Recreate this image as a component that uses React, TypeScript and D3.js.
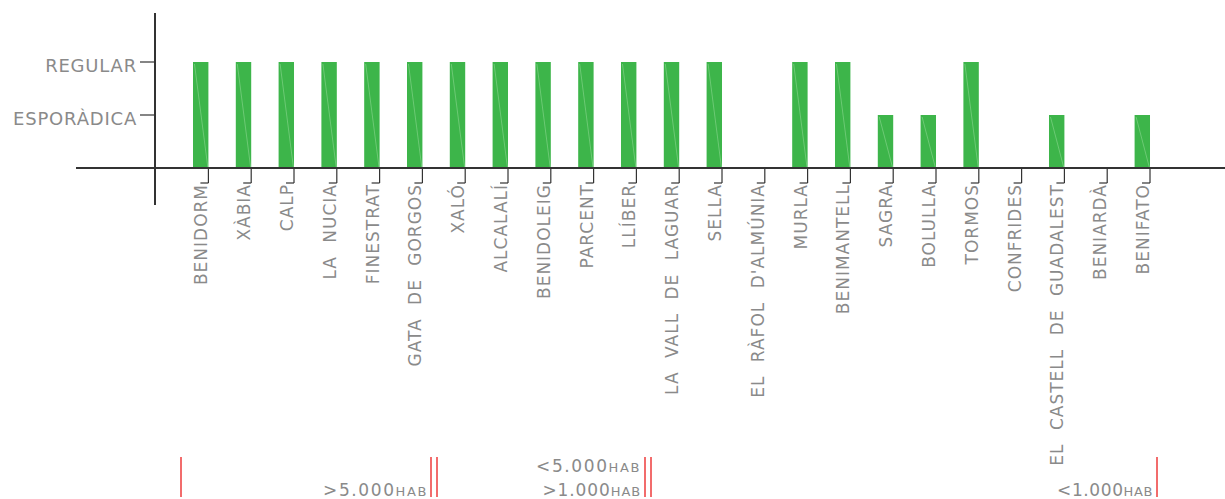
import React from "react";
import * as d3 from "d3";

const categories = [
  "BENIDORM", "XÀBIA", "CALP", "LA NUCIA", "FINESTRAT", "GATA DE GORGOS", "XALÓ",
  "ALCALALÍ", "BENIDOLEIG", "PARCENT", "LLÍBER", "LA VALL DE LAGUAR", "SELLA",
  "EL RÀFOL D'ALMÚNIA", "MURLA", "BENIMANTELL", "SAGRA", "BOLULLA", "TORMOS",
  "CONFRIDES", "EL CASTELL DE GUADALEST", "BENIARDÀ", "BENIFATO",
];
const values = [2, 2, 2, 2, 2, 2, 2, 2, 2, 2, 2, 2, 2, 0, 2, 2, 1, 1, 2, 0, 1, 0, 1];
const yTickValues = [1, 2];
const yTickLabels = ["ESPORÀDICA", "REGULAR"];

const W = 1225;
const H = 499;
const FONT = "'DejaVu Sans', sans-serif";
const GRAY = "#8a8a8a";
const AXIS = "#333";
const GREEN = "#3db54a";
const RED = "#ee3b3b";

export default function App() {
  const x = d3
    .scaleBand<string>()
    .domain(categories)
    .range([179.3, 1163.7])
    .paddingInner(0.64)
    .paddingOuter(0.32);
  const y = d3.scaleLinear().domain([0, 2]).range([168, 62]);
  const bw = x.bandwidth();
  const base = y(0);

  const redLines = [181, 431, 437, 645, 651, 1157];

  return (
    <svg
      width={W}
      height={H}
      style={{ position: "absolute", left: 0, top: 0 }}
      fontFamily={FONT}
    >
      {/* bars */}
      {categories.map((c, i) =>
        values[i] > 0 ? (
          <g key={c}>
            <rect x={x(c)!} y={y(values[i])} width={bw} height={base - y(values[i])} fill={GREEN} />
            <line
              x1={x(c)! + 1.5}
              y1={y(values[i]) + 2}
              x2={x(c)! + bw - 0.5}
              y2={base}
              stroke="#9fe0a2"
              strokeWidth={0.6}
              opacity={0.8}
            />
          </g>
        ) : null
      )}
      {/* axes */}
      <line x1={76} x2={W} y1={base} y2={base} stroke={AXIS} strokeWidth={2} />
      <line x1={155} x2={155} y1={13} y2={205} stroke={AXIS} strokeWidth={2} />
      {yTickValues.map((v, i) => (
        <g key={v}>
          <line x1={140} x2={155} y1={y(v)} y2={y(v)} stroke={AXIS} strokeWidth={1.2} />
          <text
            x={137}
            y={y(v) + 10}
            textAnchor="end"
            fontSize={18}
            fill={GRAY}
            letterSpacing={0.8}
          >
            {yTickLabels[i]}
          </text>
        </g>
      ))}
      {/* category ticks + labels */}
      {categories.map((c) => {
        const tx = x(c)! + bw;
        return (
          <g key={"t" + c}>
            <line x1={tx} x2={tx} y1={base} y2={183} stroke={AXIS} strokeWidth={1.2} />
            <line x1={tx - 8} x2={tx} y1={183} y2={183} stroke={AXIS} strokeWidth={1.2} />
            <text
              transform={`translate(${tx - 1},${184}) rotate(-90)`}
              textAnchor="end"
              fontSize={17}
              fill={GRAY}
              letterSpacing={1}
              wordSpacing={7}
            >
              {c}
            </text>
          </g>
        );
      })}
      {/* group separators */}
      {redLines.map((rx) => (
        <line key={rx} x1={rx} x2={rx} y1={457} y2={497} stroke={RED} strokeWidth={1.5} />
      ))}
      <text x={428} y={496} textAnchor="end" fontSize={17} fill={GRAY} letterSpacing={1.6}>
        {">5.000"}
        <tspan fontSize={13}>HAB</tspan>
      </text>
      <text x={641} y={472} textAnchor="end" fontSize={17} fill={GRAY} letterSpacing={1.6}>
        {"<5.000"}
        <tspan fontSize={13}>HAB</tspan>
      </text>
      <text x={641} y={496} textAnchor="end" fontSize={17} fill={GRAY} letterSpacing={0.9}>
        {">1.000"}
        <tspan fontSize={13}>HAB</tspan>
      </text>
      <text x={1153} y={496} textAnchor="end" fontSize={17} fill={GRAY} letterSpacing={0.6}>
        {"<1.000"}
        <tspan fontSize={13}>HAB</tspan>
      </text>
    </svg>
  );
}
